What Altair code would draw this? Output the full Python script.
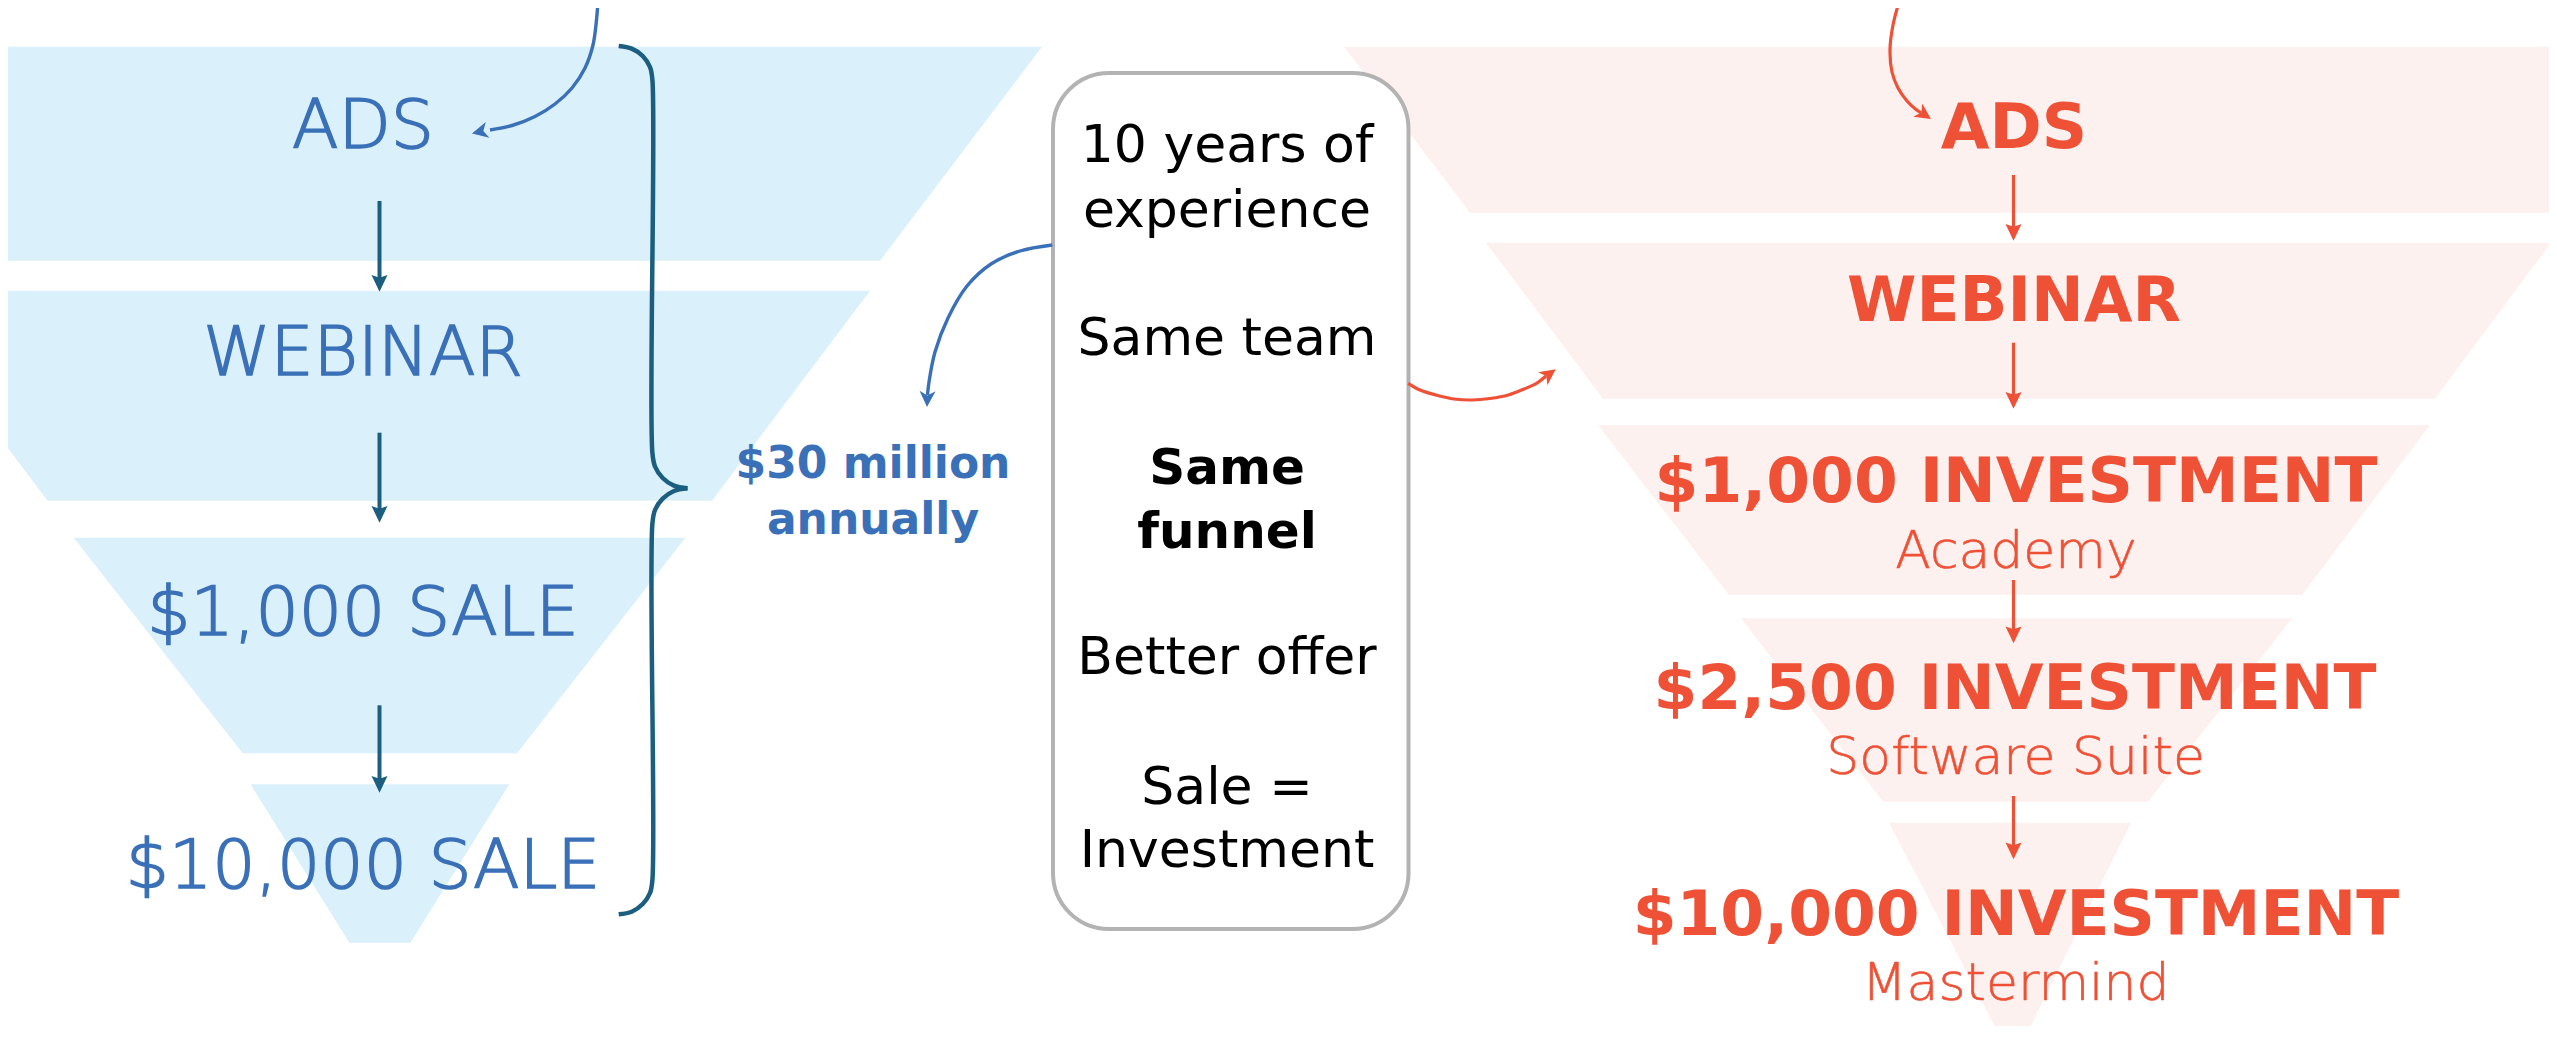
import altair as alt
import pandas as pd

# ---------------- data (reference pixel space, 2557 x 1042) ----------------
# left (blue) funnel: one trapezoid per stage
L_stage = ["ADS", "WEBINAR", "$1,000 SALE", "$10,000 SALE"]
L_top = [46.7, 290.7, 537.7, 784.3]
L_bot = [260.7, 500.7, 753.3, 942.7]
L_top_left = [-283.0, -111.0, 73.7, 250.4]
L_top_right = [1042.0, 870.0, 685.4, 509.3]
L_bot_left = [-121.0, 47.7, 242.7, 349.4]
L_bot_right = [880.0, 712.0, 517.0, 410.4]
L_label_x = [363, 363, 363, 363]
L_label_y = [147.7, 375.0, 635.0, 888.3]

# right (red) funnel
R_stage = ["ADS", "WEBINAR", "$1,000 INVESTMENT", "$2,500 INVESTMENT", "$10,000 INVESTMENT"]
R_top = [46.7, 242.7, 425.0, 618.3, 822.7]
R_bot = [212.7, 398.7, 595.0, 801.7, 1042.0]
R_top_left = [1344, 1486, 1598, 1741, 1889]
R_top_right = [2680, 2551, 2430, 2292, 2131]
R_bot_left = [1470, 1603, 1729, 1883, 2003]
R_bot_right = [2552, 2435, 2302, 2148, 2023]
R_label_x = [2014, 2014, 2016, 2015, 2016]
R_label_y = [147.7, 320.7, 502.3, 709.3, 935.0]
R_sub = ["Academy", "Software Suite", "Mastermind"]
R_sub_x = [2016, 2015.6, 2015.6]
R_sub_y = [567.7, 774.3, 1000.0]

# middle box
BOX_lines = ["10 years of", "experience", "Same team", "Better offer", "Sale =", "Investment"]
BOX_line_y = [162.3, 226.6, 354.6, 674.3, 803.5, 866.6]
BOX_bold = ["Same", "funnel"]
BOX_bold_y = [483.7, 548.0]
BOX_text_x = 1227
BOX_x = [1053]
BOX_x2 = [1408.5]
BOX_y = [73]
BOX_y2 = [929]

RESULT = ["$30 million", "annually"]
RESULT_x = 873
RESULT_y = [477.5, 533.7]

# straight arrows between stages
LA_x = 379.5
LA_start = [201.0, 432.7, 705.3]
LA_tip = [291.7, 522.7, 792.7]
RA_x = 2013.5
RA_start = [175.0, 342.7, 580.0, 796.0]
RA_tip = [240.7, 408.7, 643.3, 859.3]

# curved arrows: path points, tip and heading of the arrow head
C_TL_x = [598.0, 596.5, 593.0, 585.0, 572.0, 555.0, 535.0, 512.0, 490.0]
C_TL_y = [0.0, 20.0, 45.0, 68.0, 88.0, 104.0, 116.5, 125.5, 130.0]
C_BL_x = [1052.3, 1020.0, 991.0, 967.0, 948.0, 935.0, 929.0, 927.5]
C_BL_y = [245.0, 251.0, 264.0, 286.0, 318.0, 352.0, 382.0, 395.0]
C_TR_x = [1899.6, 1893.0, 1890.0, 1892.0, 1898.0, 1907.0, 1916.0, 1921.0]
C_TR_y = [0.0, 25.0, 50.0, 72.0, 88.0, 101.0, 109.5, 112.8]
C_BR_x = [1408.2, 1420.0, 1436.0, 1454.0, 1472.4, 1490.0, 1508.4, 1524.0, 1536.5, 1546.0]
C_BR_y = [383.3, 390.0, 395.0, 399.0, 400.0, 398.5, 395.0, 389.0, 383.3, 376.0]
HEAD_x = [472.0, 927.0, 1931.0, 1555.7]
HEAD_y = [133.5, 407.0, 119.0, 369.3]
HEAD_angle = [77, 2, 304, 234]
HEAD_color = ["#3a70b8", "#3a70b8", "#ef5136", "#ef5136"]

# curly brace (two halves meeting at the cusp)
BR_up_x = [618.7, 631.7, 642.7, 650.0, 652.4, 652.4, 655.0, 662.7, 674.0, 687.5]
BR_up_y = [46.0, 48.6, 56.0, 67.0, 80.0, 453.0, 466.5, 478.0, 485.6, 488.3]
BR_lo_x = [687.5, 674.0, 662.7, 655.0, 652.4, 652.4, 650.0, 642.7, 631.7, 618.7]
BR_lo_y = [488.3, 491.0, 498.6, 510.0, 523.5, 880.0, 893.0, 904.0, 911.7, 914.3]

# ---------------- colours / styles ----------------
BLUE_FILL = "#daf0fa"
PINK_FILL = "#fdf1ef"
BLUE = "#3a70b8"
TEAL = "#1b5e80"
RED = "#ef5136"
FONT = "DejaVu Sans"
LIGHT = "DejaVu Sans ExtraLight, DejaVu Sans"

W, H = 2541, 1018
XS = alt.Scale(domain=[8, 8 + W], nice=False, zero=False)
YS = alt.Scale(domain=[8, 8 + H], nice=False, zero=False, reverse=True)

# ---------------- tables ----------------
def funnel_df(stage, top, bot, tl, tr, bl, br):
    rows = []
    for i, s in enumerate(stage):
        rows.append(dict(stage=s, y=top[i], xl=tl[i], xr=tr[i]))
        rows.append(dict(stage=s, y=bot[i], xl=bl[i], xr=br[i]))
    return pd.DataFrame(rows)

def funnel_layer(df, color):
    return alt.Chart(df).mark_area(orient="horizontal", color=color, clip=True,
                                   interpolate="linear", opacity=1).encode(
        y=alt.Y("y:Q", scale=YS, axis=None),
        x=alt.X("xl:Q", scale=XS, axis=None, stack=None),
        x2="xr:Q",
        detail="stage:N",
    )

left_funnel = funnel_layer(funnel_df(L_stage, L_top, L_bot, L_top_left, L_top_right,
                                     L_bot_left, L_bot_right), BLUE_FILL)
right_funnel = funnel_layer(funnel_df(R_stage, R_top, R_bot, R_top_left, R_top_right,
                                      R_bot_left, R_bot_right), PINK_FILL)

box = alt.Chart(pd.DataFrame(dict(x=BOX_x, x2=BOX_x2, y=BOX_y, y2=BOX_y2))).mark_rect(
    fill="white", stroke="#b3b3b3", strokeWidth=4, cornerRadius=56).encode(
    x=alt.X("x:Q", scale=XS, axis=None), x2="x2:Q",
    y=alt.Y("y:Q", scale=YS, axis=None), y2="y2:Q")

def curve_df(name, xs, ys):
    return pd.DataFrame(dict(curve=name, x=xs, y=ys, o=list(range(len(xs)))))

def curve_layer(df, color, width):
    return alt.Chart(df).mark_line(interpolate="catmull-rom", color=color,
                                   strokeWidth=width, clip=True, strokeCap="butt").encode(
        x=alt.X("x:Q", scale=XS, axis=None),
        y=alt.Y("y:Q", scale=YS, axis=None),
        order="o:Q", detail="curve:N")

blue_curves = curve_layer(pd.concat([curve_df("tl", C_TL_x, C_TL_y),
                                     curve_df("bl", C_BL_x, C_BL_y)]), BLUE, 3.4)
red_curves = curve_layer(pd.concat([curve_df("tr", C_TR_x, C_TR_y),
                                    curve_df("br", C_BR_x, C_BR_y)]), RED, 3.2)
brace = curve_layer(pd.concat([curve_df("up", BR_up_x, BR_up_y),
                               curve_df("lo", BR_lo_x, BR_lo_y)]), TEAL, 4.5)

HEAD_LEN = 16
la = pd.DataFrame(dict(x=[LA_x] * len(LA_tip), y=LA_start,
                       y2=[t - HEAD_LEN * 0.6 for t in LA_tip], tip=LA_tip))
ra = pd.DataFrame(dict(x=[RA_x] * len(RA_tip), y=RA_start,
                       y2=[t - HEAD_LEN * 0.6 for t in RA_tip], tip=RA_tip))

def shaft(df, color, width):
    return alt.Chart(df).mark_rule(color=color, strokeWidth=width).encode(
        x=alt.X("x:Q", scale=XS, axis=None),
        y=alt.Y("y:Q", scale=YS, axis=None), y2="y2:Q")

STRAIGHT_HEAD = "M0,0 L-1,-2.1 L0,-1.75 L1,-2.1 Z"
CURVE_HEAD = "M0,0 L-1,-2 L0,-1.45 L1,-2 Z"

def heads(df, color, shape):
    return alt.Chart(df).mark_point(shape=shape, filled=True, size=256, color=color,
                                    opacity=1, strokeWidth=0).encode(
        x=alt.X("x:Q", scale=XS, axis=None),
        y=alt.Y("tip:Q", scale=YS, axis=None))

curve_heads = alt.Chart(pd.DataFrame(dict(x=HEAD_x, tip=HEAD_y, ang=HEAD_angle,
                                          c=HEAD_color))).mark_point(
    shape=CURVE_HEAD, filled=True, size=256, opacity=1, strokeWidth=0).encode(
    x=alt.X("x:Q", scale=XS, axis=None),
    y=alt.Y("tip:Q", scale=YS, axis=None),
    angle=alt.Angle("ang:Q", scale=None),
    color=alt.Color("c:N", scale=None))

def text_layer(texts, xs, ys, size, color, font, weight, stroke_w=0):
    df = pd.DataFrame(dict(t=texts, x=xs, y=ys))
    props = dict(font=font, fontSize=size, fontWeight=weight, color=color,
                 align="center", baseline="alphabetic")
    if stroke_w:
        props.update(stroke=color, strokeWidth=stroke_w)
    return alt.Chart(df).mark_text(**props).encode(
        x=alt.X("x:Q", scale=XS, axis=None),
        y=alt.Y("y:Q", scale=YS, axis=None),
        text="t:N")

t_left = text_layer(L_stage, L_label_x, L_label_y, 68, BLUE, LIGHT, 200, 1.6)
t_right = text_layer(R_stage, R_label_x, R_label_y, 63, RED, FONT, "bold")
t_sub = text_layer(R_sub, R_sub_x, R_sub_y, 52, RED, LIGHT, 200, 0.6)
t_box = text_layer(BOX_lines, [BOX_text_x] * len(BOX_lines), BOX_line_y, 52, "black", FONT, "normal")
t_box_b = text_layer(BOX_bold, [BOX_text_x] * len(BOX_bold), BOX_bold_y, 50, "black", FONT, "bold")
t_res = text_layer(RESULT, [RESULT_x] * len(RESULT), RESULT_y, 44, BLUE, FONT, "bold")

chart = alt.layer(
    left_funnel, right_funnel, box,
    blue_curves, red_curves, brace,
    shaft(la, TEAL, 4), heads(la, TEAL, STRAIGHT_HEAD),
    shaft(ra, RED, 3.2), heads(ra, RED, STRAIGHT_HEAD),
    curve_heads,
    t_left, t_right, t_sub, t_box, t_box_b, t_res,
).properties(width=W, height=H, padding=0, background="white").configure_view(strokeWidth=0)

chart.save("out.html", embed_options={"renderer": "svg", "actions": False})
